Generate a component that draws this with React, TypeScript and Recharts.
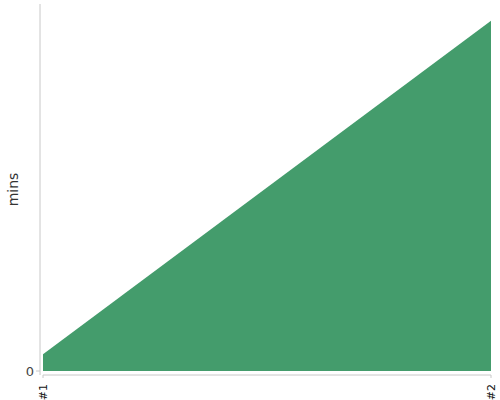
import { AreaChart, Area, XAxis, YAxis } from 'recharts';

const runs = ['#1', '#2'];
const minutes = [1, 21];
const yTicks = [0];

const data = runs.map((run, i) => ({ run, mins: minutes[i] }));

const font = '"DejaVu Sans", sans-serif';

const App = () => {
    return (
        <div style={{ position: 'absolute', left: 0, top: 0, width: 500, height: 400, background: '#fff' }}>
            <AreaChart
                width={500}
                height={400}
                data={data}
                margin={{ top: 4, right: 9, left: 0, bottom: 0 }}
            >
                <XAxis
                    dataKey="run"
                    padding={{ left: 3, right: 0 }}
                    height={25}
                    interval={0}
                    axisLine={{ stroke: '#c8c8c8', strokeDasharray: '0 3 2000' }}
                    tickLine={{ stroke: '#c8c8c8' }}
                    tickSize={3}
                    tickMargin={9}
                    tick={{ fontSize: 11, fill: '#111', fontFamily: font }}
                    angle={-90}
                    textAnchor="end"
                    dx={-4}
                    dy={-3}
                />
                <YAxis
                    width={40}
                    domain={[0, 22]}
                    ticks={yTicks}
                    padding={{ top: 0, bottom: 4 }}
                    axisLine={{ stroke: '#c8c8c8' }}
                    tickLine={{ stroke: '#c8c8c8' }}
                    tickSize={4}
                    tick={{ fontSize: 13, fill: '#444', fontFamily: font }}
                    label={{
                        value: 'mins',
                        angle: -90,
                        position: 'insideLeft',
                        offset: 13,
                        style: { fontSize: 14, fill: '#333', fontFamily: font, textAnchor: 'middle' },
                    }}
                />
                <Area
                    type="linear"
                    dataKey="mins"
                    stroke="none"
                    fill="#449c6c"
                    fillOpacity={1}
                    isAnimationActive={false}
                />
            </AreaChart>
        </div>
    );
};

export default App;
